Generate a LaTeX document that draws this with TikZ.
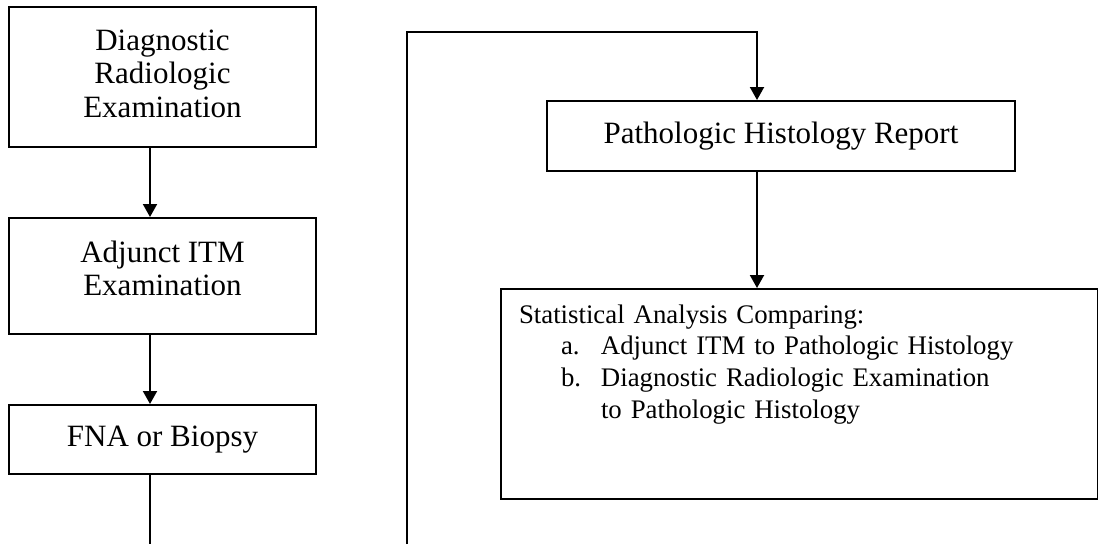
\documentclass[tikz,border=0pt]{standalone}
\usepackage{fontspec}
\setmainfont{Liberation Serif}
\usetikzlibrary{positioning, arrows.meta}
\tikzset{
  every node/.style={font=\fontsize{31}{33.5}\selectfont},
  arr/.style={-{Triangle[length=13pt, width=14pt]}, line width=2pt},
  conn/.style={line width=2pt},
  box/.style={draw, line width=2pt, inner sep=0pt, align=center, minimum width=307pt},
  listbox/.style={draw, line width=2pt, align=left, anchor=north west,
                  font=\fontsize{26.8}{31.8}\selectfont},
}
\newcommand{\listItem}[2]{\hspace*{42pt}\makebox[40pt][l]{#1}#2}

\begin{document}
\begin{tikzpicture}[x=1pt, y=1pt]
  \useasboundingbox (0,0) rectangle (1098,-544);
  \node[box, minimum height=140pt, text depth=7pt] (radio) at (162.5,-77) {Diagnostic\\Radiologic\\Examination};
  \node[box, minimum height=116pt, text depth=16pt, below=69pt of radio] (itm) {Adjunct ITM\\Examination};
  \node[box, minimum height=69pt, below=69pt of itm] (fna) {FNA or Biopsy};
  \node[box, minimum width=468pt, minimum height=70pt] (histo) at (781,-136) {Pathologic Histology Report};
  \node[listbox, text width=561pt, inner xsep=18pt, inner ysep=15.5pt, text depth=160pt] (stats) at (500,-288)
    {Statistical Analysis Comparing:\\
     \listItem{a.}{Adjunct ITM to Pathologic Histology}\\
     \listItem{b.}{Diagnostic Radiologic Examination}\\
     \hspace*{82pt}to Pathologic Histology};
  \coordinate (fnaOut) at (150,-544);
  \coordinate (loopIn) at (407,-544);
  \coordinate (loopTop) at (407,-32);
  \draw[arr] ([xshift=-12.5pt]radio.south) -- ([xshift=-12.5pt]itm.north);
  \draw[arr] ([xshift=-12.5pt]itm.south) -- ([xshift=-12.5pt]fna.north);
  \draw[conn] ([xshift=-12.5pt]fna.south) -- (fnaOut);
  \draw[arr] (loopIn) -- (loopTop) -| ([xshift=-24pt]histo.north);
  \draw[arr] ([xshift=-24pt]histo.south) -- ([xshift=-24pt]histo.south |- stats.north);
\end{tikzpicture}
\end{document}
